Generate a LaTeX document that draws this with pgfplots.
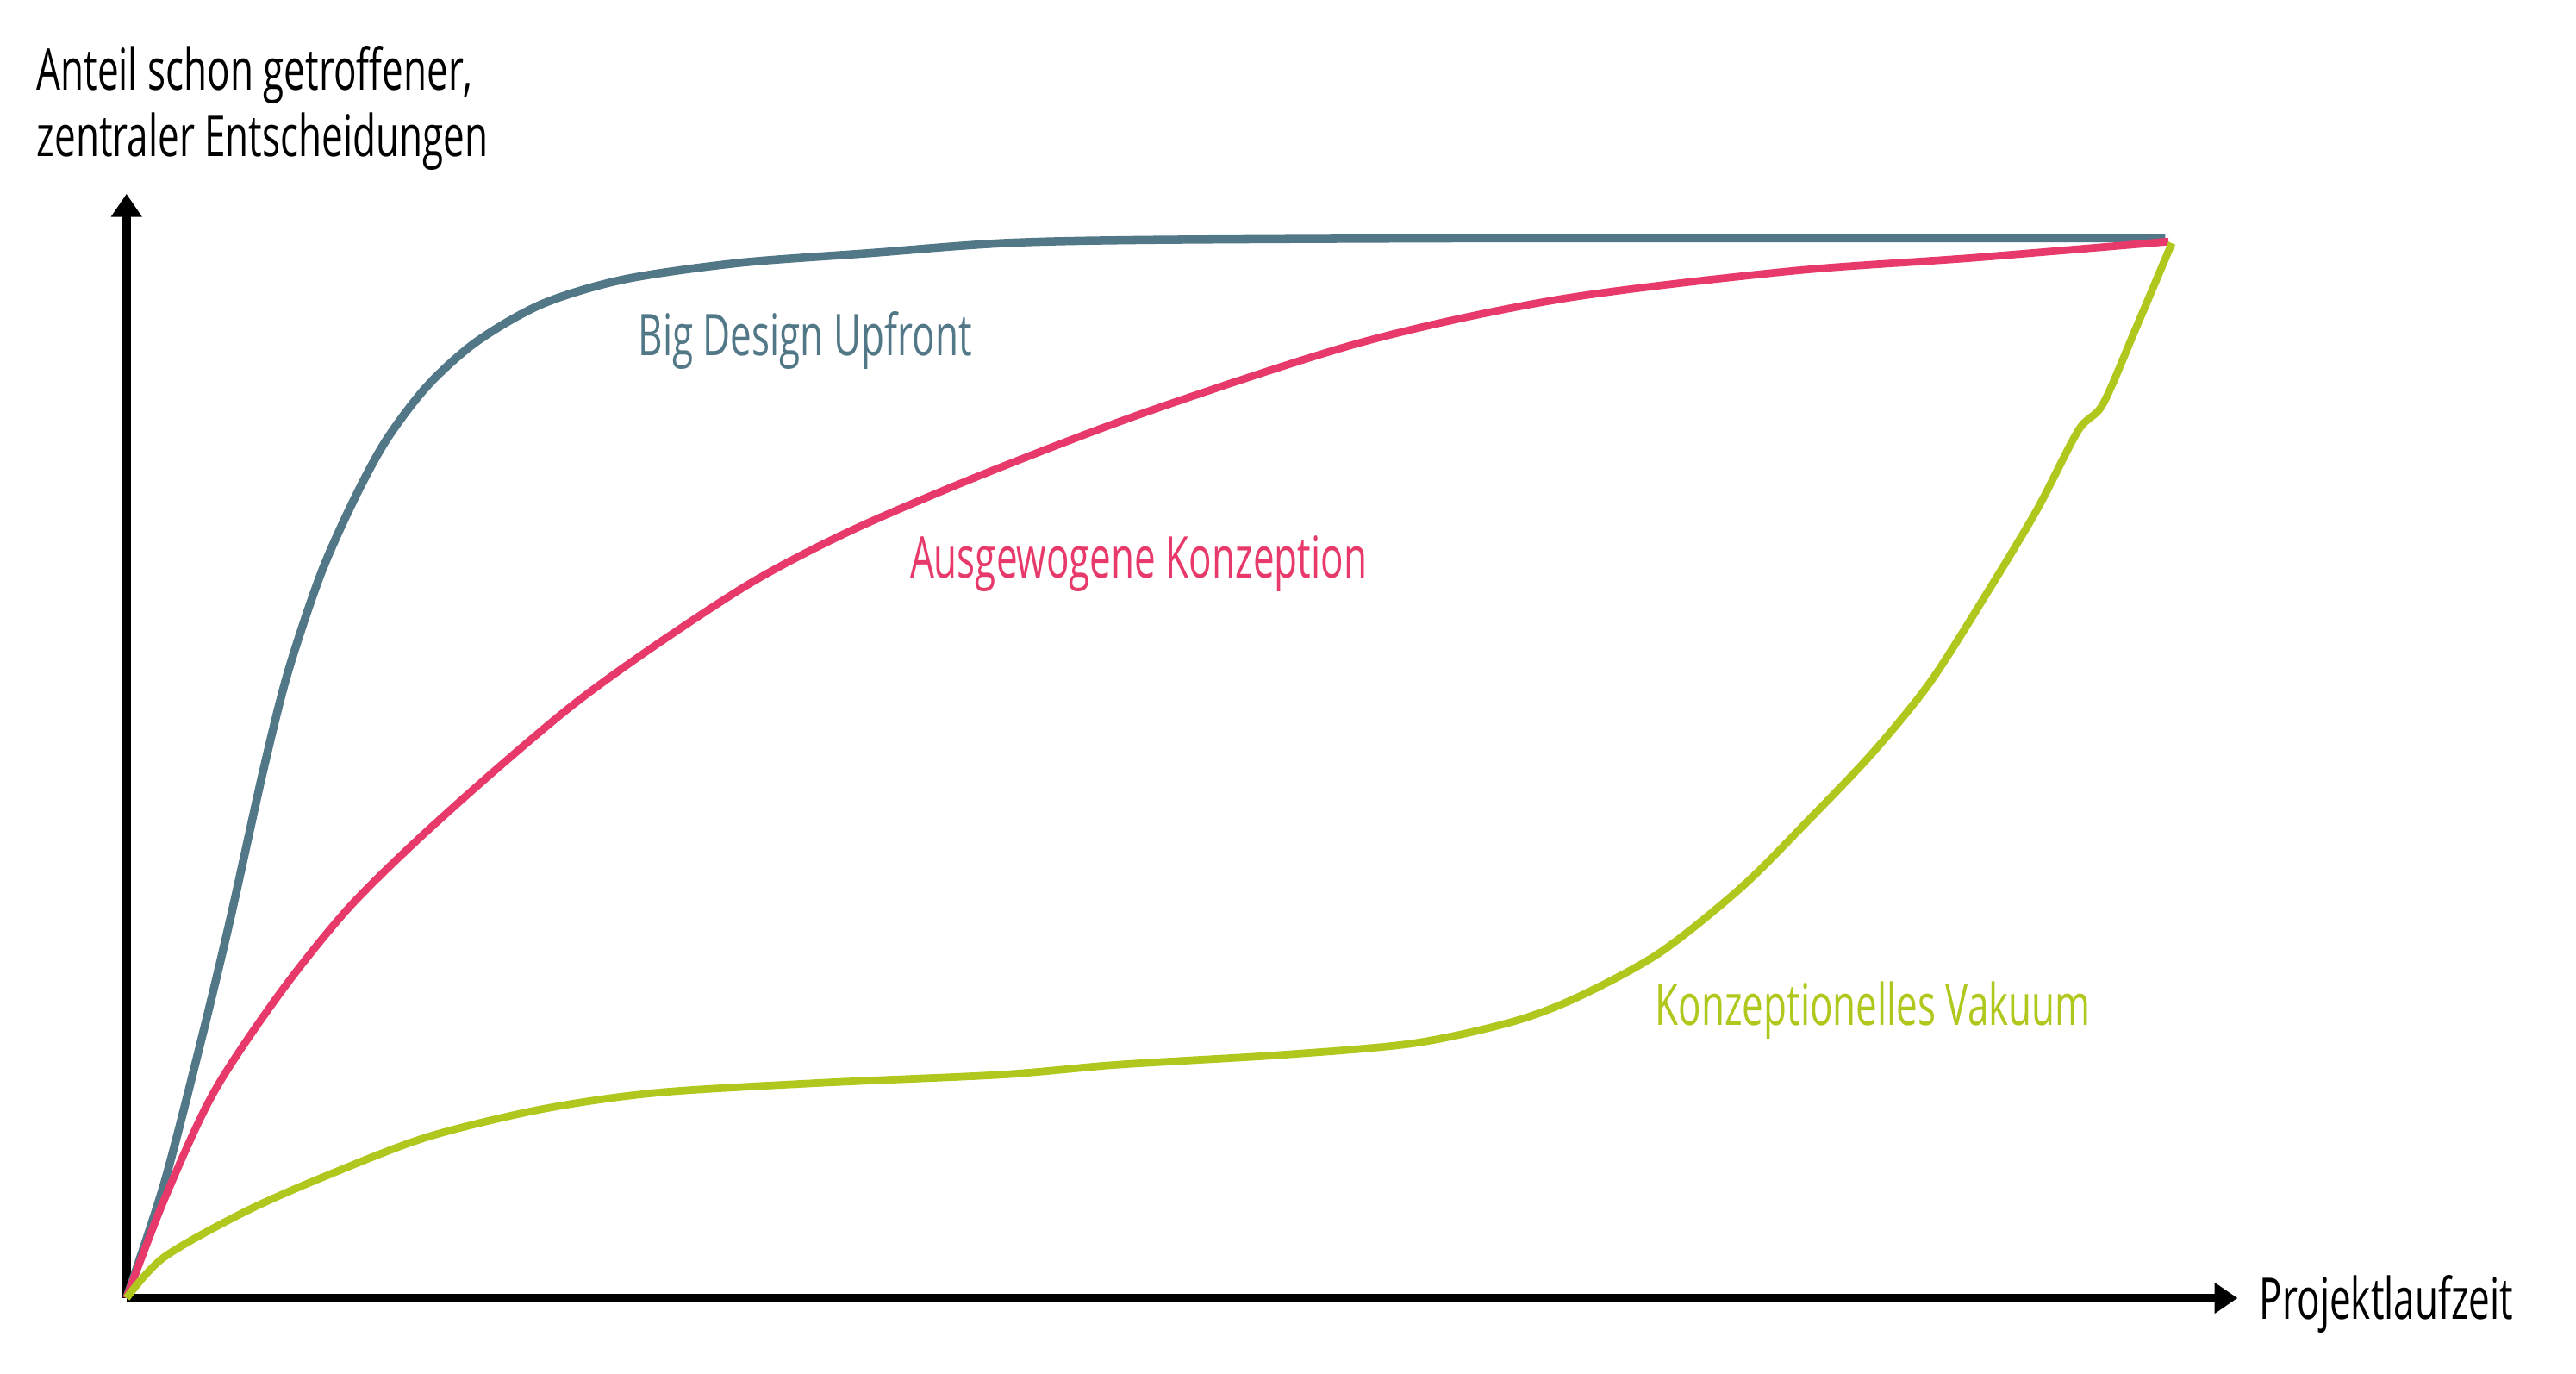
\documentclass[border=0pt]{standalone}
\usepackage{pgfplots}
\pgfplotsset{compat=1.18}
\usepackage{fontspec}
\setmainfont[FakeStretch=0.66]{Open Sans}
\usetikzlibrary{arrows.meta}
\definecolor{cblue}{HTML}{527888}
\definecolor{cpink}{HTML}{E83A6A}
\definecolor{cgreen}{HTML}{B0C81E}
\begin{document}
\begin{tikzpicture}
\useasboundingbox (-38.5pt,-23pt) rectangle (745.5pt,395pt);
\begin{axis}[
  at={(0,0)}, anchor=south west,
  scale only axis,
  x=0.5pt, y=0.5pt,
  xmin=0, xmax=1285, ymin=0, ymax=672,
  axis lines=left,
  ticks=none,
  clip=false,
  axis line style={line width=2.6pt, -{Triangle[width=9pt,length=7pt]}},
  every axis plot/.append style={line width=2.3pt, smooth, tension=0.5, mark=none},
  font=\fontsize{17.5}{21}\selectfont,
]
\addplot[cblue, line width=2.5pt] coordinates {
(0,0)(23,70)(45,155)(63,230)(83,320)(98,380)(118,440)(138,485)(158,522)(183,555)
(213,582)(253,605)(303,620)(373,630)(453,636)(533,642)(623,644)(823,645)(1023,645)(1241,645)};
\addplot[cpink] coordinates {
(0,0)(23,60)(53,125)(93,185)(133,235)(173,275)(223,320)(273,362)(323,398)(383,437)
(443,468)(523,502)(623,540)(753,582)(873,608)(1013,625)(1123,633)(1243,643)};
\addplot[cgreen] coordinates {
(0,0)(23,25)(73,53)(123,75)(183,98)(253,115)(323,125)(423,131)(533,136)(603,142)
(703,148)(783,155)(843,168)(883,183)(933,210)(983,250)(1023,290)(1063,332)(1098,375)
(1133,430)(1163,480)(1188,528)(1203,544)(1223,590)(1245,642)};
\node[cblue] at (axis cs:413,583) {Big Design Upfront};
\node[cpink] at (axis cs:616,447) {Ausgewogene Konzeption};
\node[cgreen] at (axis cs:1063,175) {Konzeptionelles Vakuum};
\node[anchor=base west, inner sep=0pt] at (axis cs:-55,735) {Anteil schon getroffener,};
\node[anchor=base west, inner sep=0pt] at (axis cs:-55,695) {zentraler Entscheidungen};
\node[anchor=base west, inner sep=0pt] at (axis cs:1298,-13) {Projektlaufzeit};
\end{axis}
\end{tikzpicture}
\end{document}
